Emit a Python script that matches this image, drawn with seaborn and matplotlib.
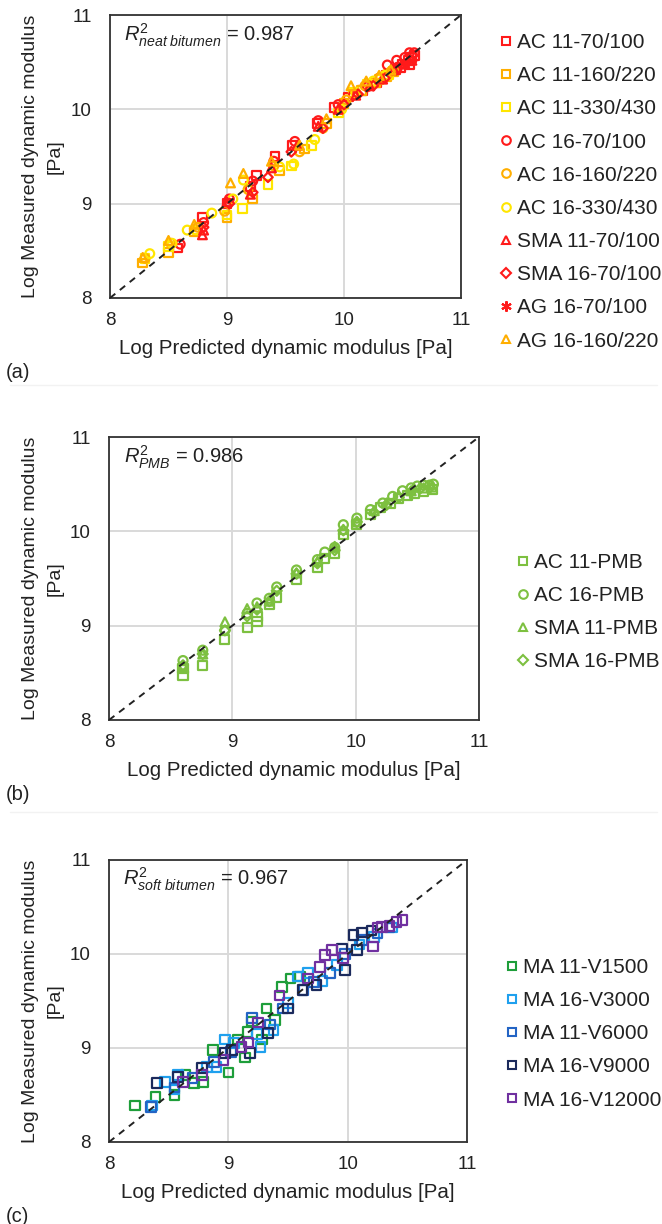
import numpy as np
import pandas as pd
import matplotlib
matplotlib.use("Agg")
import matplotlib.pyplot as plt
from matplotlib.lines import Line2D
import seaborn as sns

# ---------------- data ----------------
# panel (a) neat bitumen
a_names = ["AC 11-70/100", "AC 11-160/220", "AC 11-330/430", "AC 16-70/100",
           "AC 16-160/220", "AC 16-330/430", "SMA 11-70/100", "SMA 16-70/100",
           "AG 16-70/100", "AG 16-160/220"]
a_x = [
    [8.58, 8.79, 9.00, 9.20, 9.25, 9.41, 9.56, 9.77, 9.92, 10.04, 10.16, 10.28, 10.36, 10.44, 10.50, 10.55, 10.58, 10.60, 10.48, 10.56],
    [8.28, 8.50, 8.72, 9.00, 9.22, 9.45, 9.66, 9.85, 10.00, 10.15, 10.27, 10.36, 10.42],
    [8.30, 8.50, 8.75, 9.00, 9.13, 9.35, 9.55, 9.72, 9.95, 10.08, 10.20, 10.30, 10.38],
    [8.60, 8.80, 9.02, 9.22, 9.40, 9.58, 9.78, 9.95, 10.08, 10.20, 10.30, 10.37, 10.45, 10.52, 10.56, 10.60],
    [8.30, 8.52, 8.75, 8.98, 9.18, 9.40, 9.62, 9.82, 10.02, 10.18, 10.30, 10.40],
    [8.34, 8.53, 8.66, 8.87, 9.05, 9.14, 9.45, 9.57, 9.75, 9.98, 10.10, 10.25, 10.35],
    [8.79, 8.80, 9.00, 9.20, 9.38, 9.60, 9.78, 9.95, 10.10, 10.22, 10.33, 10.43, 10.52, 10.58],
    [8.80, 9.02, 9.22, 9.35, 9.55, 9.82, 10.00, 10.12, 10.25, 10.35, 10.45, 10.53, 10.58],
    [8.58, 8.79, 9.00, 9.25, 9.41, 9.56, 9.75, 9.90, 10.05, 10.20, 10.32, 10.42, 10.50, 10.57],
    [8.28, 8.50, 8.72, 9.03, 9.14, 9.38, 9.62, 9.85, 10.06, 10.19, 10.30, 10.40],
]
a_y = [
    [8.53, 8.85, 9.00, 9.18, 9.30, 9.50, 9.62, 9.85, 10.02, 10.13, 10.20, 10.28, 10.36, 10.42, 10.48, 10.52, 10.55, 10.57, 10.44, 10.47],
    [8.37, 8.48, 8.70, 8.85, 9.05, 9.35, 9.58, 9.85, 10.06, 10.20, 10.28, 10.35, 10.40],
    [8.42, 8.55, 8.72, 8.88, 8.95, 9.20, 9.40, 9.62, 9.96, 10.18, 10.26, 10.32, 10.37],
    [8.57, 8.80, 9.05, 9.24, 9.45, 9.66, 9.88, 10.05, 10.15, 10.24, 10.33, 10.47, 10.52, 10.55, 10.60, 10.60],
    [8.42, 8.58, 8.75, 8.92, 9.15, 9.40, 9.55, 9.80, 10.10, 10.25, 10.33, 10.40],
    [8.47, 8.58, 8.72, 8.90, 9.05, 9.25, 9.39, 9.42, 9.68, 10.00, 10.18, 10.30, 10.36],
    [8.67, 8.72, 9.02, 9.10, 9.38, 9.62, 9.82, 10.00, 10.15, 10.25, 10.32, 10.42, 10.48, 10.52],
    [8.75, 9.00, 9.12, 9.28, 9.55, 9.80, 10.05, 10.16, 10.25, 10.33, 10.42, 10.48, 10.52],
    [8.67, 8.82, 9.07, 9.41, 9.59, 9.69, 9.82, 10.00, 10.12, 10.22, 10.30, 10.40, 10.47, 10.55],
    [8.43, 8.61, 8.78, 9.22, 9.32, 9.45, 9.62, 9.90, 10.25, 10.30, 10.36, 10.42],
]
a_r2 = "0.987"

# panel (b) PMB
b_names = ["AC 11-PMB", "AC 16-PMB", "SMA 11-PMB", "SMA 16-PMB"]
b_x = [
    [8.60, 8.60, 8.76, 8.94, 9.12, 9.20, 9.20, 9.30, 9.36, 9.52, 9.69, 9.75, 9.83, 9.90, 10.01, 10.12, 10.20, 10.28, 10.35, 10.42, 10.48, 10.55, 10.62],
    [8.60, 8.76, 8.94, 9.12, 9.20, 9.30, 9.36, 9.52, 9.69, 9.75, 9.83, 9.90, 10.01, 10.12, 10.22, 10.30, 10.38, 10.45, 10.50, 10.55, 10.60, 10.63],
    [8.60, 8.76, 8.94, 9.12, 9.20, 9.30, 9.52, 9.69, 9.83, 9.90, 10.01, 10.15, 10.25, 10.35, 10.45, 10.55, 10.62],
    [8.60, 8.76, 8.94, 9.12, 9.20, 9.30, 9.36, 9.52, 9.69, 9.83, 9.90, 10.01, 10.15, 10.25, 10.35, 10.45, 10.52, 10.60],
]
b_y = [
    [8.47, 8.55, 8.58, 8.85, 8.98, 9.04, 9.10, 9.22, 9.30, 9.49, 9.62, 9.71, 9.76, 9.97, 10.07, 10.18, 10.25, 10.30, 10.35, 10.38, 10.40, 10.42, 10.44],
    [8.63, 8.74, 8.95, 9.13, 9.24, 9.29, 9.41, 9.59, 9.70, 9.78, 9.83, 10.07, 10.14, 10.23, 10.30, 10.37, 10.43, 10.46, 10.48, 10.49, 10.49, 10.50],
    [8.58, 8.70, 9.04, 9.18, 9.20, 9.26, 9.56, 9.68, 9.84, 10.02, 10.10, 10.22, 10.30, 10.38, 10.43, 10.46, 10.47],
    [8.58, 8.70, 8.95, 9.10, 9.17, 9.26, 9.37, 9.55, 9.66, 9.80, 10.01, 10.10, 10.20, 10.28, 10.36, 10.42, 10.45, 10.46],
]
b_r2 = "0.986"

# panel (c) soft bitumen
c_names = ["MA 11-V1500", "MA 16-V3000", "MA 11-V6000", "MA 16-V9000", "MA 16-V12000"]
c_x = [
    [8.22, 8.39, 8.55, 8.64, 8.71, 8.79, 8.87, 9.00, 9.08, 9.14, 9.16, 9.20, 9.28, 9.32, 9.39, 9.45, 9.52, 9.60],
    [8.36, 8.47, 8.55, 8.58, 8.82, 8.90, 8.97, 9.05, 9.24, 9.27, 9.38, 9.50, 9.58, 9.67, 9.79, 9.91, 10.10, 10.22, 10.37],
    [8.35, 8.55, 8.70, 8.88, 9.02, 9.20, 9.35, 9.46, 9.63, 9.72, 9.85, 9.98, 10.12, 10.25, 10.35],
    [8.40, 8.58, 8.78, 8.97, 9.03, 9.18, 9.33, 9.50, 9.62, 9.74, 9.98, 9.95, 10.08, 10.05, 10.12, 10.20],
    [8.62, 8.78, 8.96, 9.11, 9.17, 9.25, 9.43, 9.67, 9.77, 9.81, 9.87, 9.96, 10.21, 10.25, 10.29, 10.35, 10.41, 10.46],
]
c_y = [
    [8.39, 8.48, 8.50, 8.71, 8.63, 8.64, 8.98, 8.74, 9.09, 8.90, 9.17, 9.28, 9.09, 9.42, 9.30, 9.65, 9.74, 9.76],
    [8.39, 8.64, 8.56, 8.71, 8.80, 8.80, 9.09, 9.05, 9.15, 9.01, 9.19, 9.48, 9.76, 9.80, 9.71, 9.88, 10.10, 10.18, 10.28],
    [8.37, 8.58, 8.68, 8.85, 8.96, 9.32, 9.25, 9.42, 9.62, 9.70, 9.80, 10.00, 10.15, 10.22, 10.28],
    [8.63, 8.69, 8.79, 8.95, 8.98, 8.95, 9.16, 9.42, 9.62, 9.67, 9.83, 10.06, 10.04, 10.20, 10.23, 10.25],
    [8.64, 8.71, 8.87, 9.01, 9.06, 9.27, 9.56, 9.74, 9.86, 9.99, 10.04, 9.96, 10.08, 10.28, 10.29, 10.30, 10.34, 10.36],
]
c_r2 = "0.967"

axis_ticks = [8, 9, 10, 11]

# ---------------- style ----------------
sns.set_theme(style="white")
plt.rcParams["font.family"] = ["Liberation Sans", "DejaVu Sans"]
plt.rcParams["mathtext.fontset"] = "custom"
plt.rcParams["mathtext.rm"] = "Liberation Sans"
plt.rcParams["mathtext.it"] = "Liberation Sans:italic"

RED, ORA, YEL = "#FF1A1A", "#FFAE00", "#FFE600"
GRN = "#7DC040"
a_colors = [RED, ORA, YEL, RED, ORA, YEL, RED, RED, RED, ORA]
a_markers = ["s", "s", "s", "o", "o", "o", "^", "D", (6, 2, 0), "^"]
a_sizes = [40, 40, 40, 40, 40, 40, 40, 24, 60, 40]
a_msz = [6.2, 6.2, 6.2, 6.2, 6.2, 6.2, 6.2, 4.8, 7.5, 6.2]
b_colors = [GRN] * 4
b_markers = ["s", "o", "^", "D"]
b_sizes = [42, 42, 42, 26]
b_msz = [6.2, 6.2, 6.2, 4.8]
c_colors = ["#1E9E3A", "#1FA0EE", "#2364C4", "#1B2A5C", "#7030A0"]
c_markers = ["s"] * 5
c_sizes = [48] * 5
c_msz = [6.2] * 5

W, H = 662, 1224
fig = plt.figure(figsize=(W / 100, H / 100), dpi=100)


def frac_rect(l, t, r, b):
    return [l / W, 1 - b / H, (r - l) / W, (b - t) / H]


def draw_panel(rect, names, xs, ys, colors, markers, sizes, msz, r2label, leg_xy, tag):
    left_px, top_px, right_px, bottom_px = rect
    ax = fig.add_axes(frac_rect(*rect))
    for nm, x, y, c, m, s in zip(names, xs, ys, colors, markers, sizes):
        df = pd.DataFrame({"pred": x, "meas": y})
        sns.scatterplot(data=df, x="pred", y="meas", ax=ax, marker=m, s=s,
                        color=c, facecolors="none", edgecolor=c, linewidth=1.6,
                        legend=False, zorder=3)
    ax.axline((axis_ticks[0], axis_ticks[0]), slope=1, color="#222222",
              lw=1.4, ls=(0, (3.5, 3)), zorder=4)
    ax.set_xlim(axis_ticks[0], axis_ticks[-1])
    ax.set_ylim(axis_ticks[0], axis_ticks[-1])
    ax.set_xticks(axis_ticks)
    ax.set_yticks(axis_ticks)
    ax.set_xlabel("")
    ax.set_ylabel("")
    ax.grid(True, color="#D9D9D9", lw=1.4, zorder=0)
    ax.set_axisbelow(True)
    for sp in ax.spines.values():
        sp.set_color("#333333")
        sp.set_linewidth(1.3)
    ax.tick_params(axis="both", direction="in", length=4, width=1.2,
                   color="#333333", labelsize=13.5, labelcolor="#222222")
    ax.tick_params(axis="x", pad=10)
    ax.tick_params(axis="y", pad=13)
    ax.text(0.04, 0.93, r2label, transform=ax.transAxes, ha="left", va="center",
            fontsize=14.5, color="#222222")
    # y label (two lines)
    yc = 1 - (top_px + bottom_px) / 2 / H
    fig.text(43 / W, yc, "Log Measured dynamic modulus\n[Pa]", rotation=90,
             ha="center", va="center", multialignment="center", fontsize=14,
             linespacing=1.55, color="#222222")
    # x label
    fig.text((left_px + right_px) / 2 / W, 1 - (bottom_px + 50) / H,
             "Log Predicted dynamic modulus [Pa]", ha="center", va="center",
             fontsize=14.8, color="#222222")
    fig.text(6 / W, 1 - (bottom_px + 74) / H, tag, ha="left", va="center",
             fontsize=14.5, color="#222222")
    handles = [Line2D([], [], ls="none", marker=m, mfc="none", mec=c, mew=1.5,
                      ms=z) for c, m, z in zip(colors, markers, msz)]
    fig.legend(handles, names, loc="upper left",
               bbox_to_anchor=(leg_xy[0] / W, 1 - leg_xy[1] / H),
               frameon=False, borderpad=0, borderaxespad=0, handlelength=0.66,
               handletextpad=0.2, labelspacing=0.68, fontsize=15,
               labelcolor="#222222")
    return ax


draw_panel((110, 15, 461, 298), a_names, a_x, a_y, a_colors, a_markers,
           a_sizes, a_msz, r"$\mathit{R}^{2}_{\mathit{neat\ bitumen}}$ = " + a_r2,
           (499, 33), "(a)")
draw_panel((109, 437, 479, 720), b_names, b_x, b_y, b_colors, b_markers,
           b_sizes, b_msz, r"$\mathit{R}^{2}_{\mathit{PMB}}$ = " + b_r2,
           (516, 553), "(b)")
draw_panel((109, 860, 467, 1142), c_names, c_x, c_y, c_colors, c_markers,
           c_sizes, c_msz, r"$\mathit{R}^{2}_{\mathit{soft\ bitumen}}$ = " + c_r2,
           (505, 958), "(c)")

# faint separators between panels
for ysep in [385, 812]:
    fig.add_artist(Line2D([10 / W, 1 - 5 / W], [1 - ysep / H, 1 - ysep / H],
                          color="#F2F2F2", lw=1.0))

fig.savefig("out.png", dpi=100)
